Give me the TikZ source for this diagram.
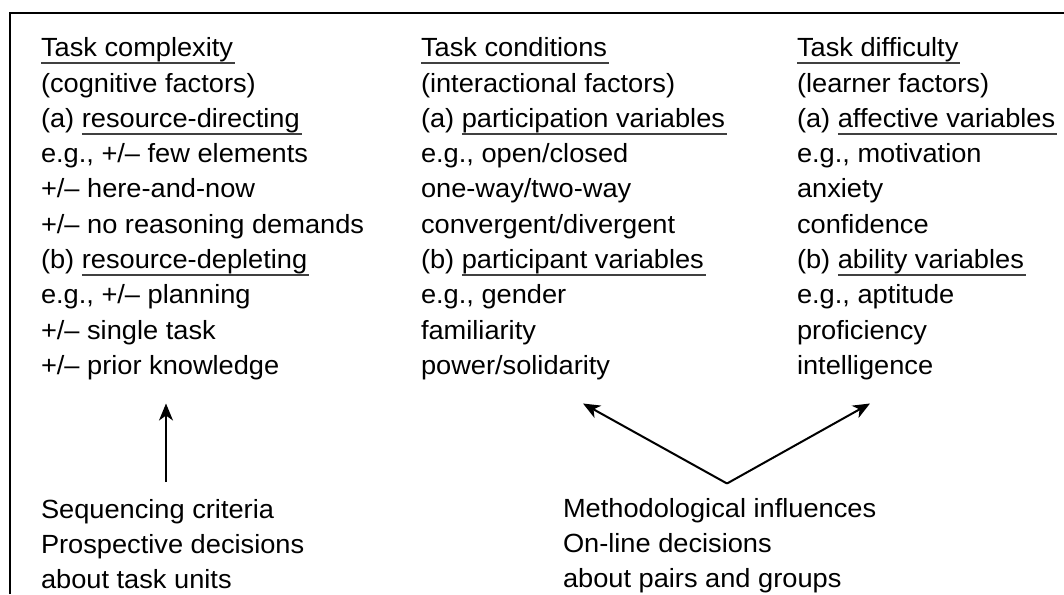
\documentclass[tikz,border=0pt]{standalone}
\usepackage{fontspec}
\setmainfont[FakeStretch=1.035]{Liberation Sans}
\usetikzlibrary{arrows.meta}
\newcommand{\ulw}[1]{\setbox0\hbox{#1}\rlap{\color{black!75}\vrule height -5.2pt depth 7.2pt width \dimexpr\wd0+2pt\relax}\box0}
\tikzset{
  txt/.style={anchor=base west, inner sep=0pt, outer sep=0pt, font=\fontsize{26.3}{30}\selectfont},
  arr/.style={line width=2pt, -{Stealth[length=17pt,width=14pt,inset=5pt]}},
  frame/.style={line width=2pt}
}
\begin{document}
\begin{tikzpicture}[x=1pt,y=-1pt]
\useasboundingbox (0,0) rectangle (1064,594);
\coordinate (fbl) at (10,594);
\coordinate (ftl) at (10,13);
\coordinate (ftr) at (1064,13);
\draw[frame] (fbl) -- (ftl) -- (ftr);
\foreach \i/\t in {0/{\ulw{Task complexity}},1/{(cognitive factors)},2/{(a) \ulw{resource-directing}},3/{e.g., +/– few elements},4/{+/– here-and-now},5/{+/– no reasoning demands},6/{(b) \ulw{resource-depleting}},7/{e.g., +/– planning},8/{+/– single task},9/{+/– prior knowledge}}
  \node[txt] (l\i) at (41,56.7+35.3*\i) {\t};
\foreach \i/\t in {0/{\ulw{Task conditions}},1/{(interactional factors)},2/{(a) \ulw{participation variables}},3/{e.g., open/closed},4/{one-way/two-way},5/{convergent/divergent},6/{(b) \ulw{participant variables}},7/{e.g., gender},8/{familiarity},9/{power/solidarity}}
  \node[txt] (m\i) at (421,56.7+35.3*\i) {\t};
\foreach \i/\t in {0/{\ulw{Task difficulty}},1/{(learner factors)},2/{(a) \ulw{affective variables}},3/{e.g., motivation},4/{anxiety},5/{confidence},6/{(b) \ulw{ability variables}},7/{e.g., aptitude},8/{proficiency},9/{intelligence}}
  \node[txt] (r\i) at (797,56.7+35.3*\i) {\t};
\foreach \i/\t in {0/{Sequencing criteria},1/{Prospective decisions},2/{about task units}}
  \node[txt] (sq\i) at (41,518+35*\i) {\t};
\foreach \i/\t in {0/{Methodological influences},1/{On-line decisions},2/{about pairs and groups}}
  \node[txt] (mi\i) at (563,517+35*\i) {\t};
\coordinate (a1s) at (166,482);
\coordinate (a1e) at (166,403.5);
\coordinate (apex) at (727,483.5);
\coordinate (tipL) at (583,403.5);
\coordinate (tipR) at (870,403.5);
\draw[arr] (a1s) -- (a1e);
\draw[arr] (apex) -- (tipL);
\draw[arr] (apex) -- (tipR);
\end{tikzpicture}
\end{document}
